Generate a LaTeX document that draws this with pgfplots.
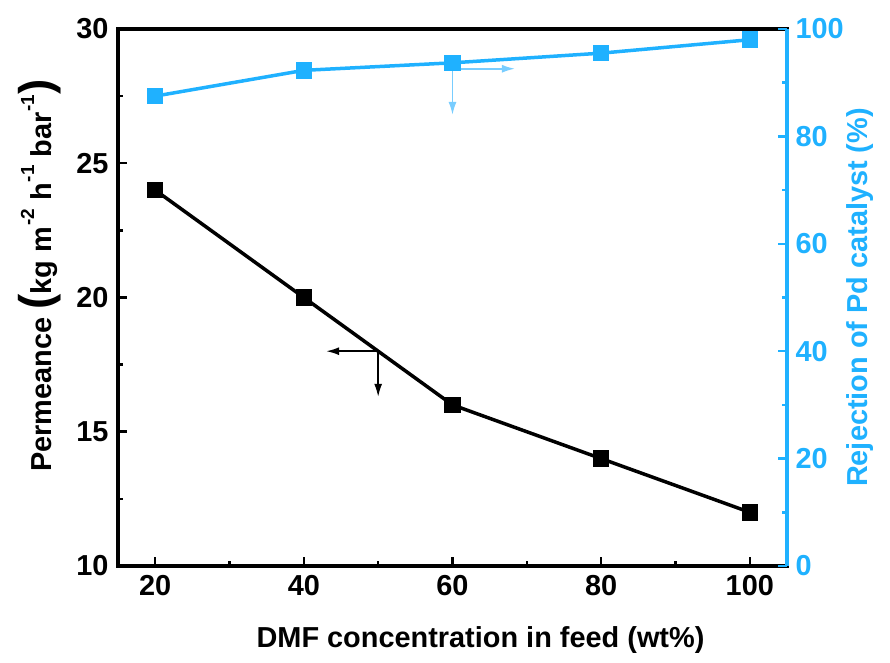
\documentclass[border=0pt]{standalone}
\usepackage{pgfplots}
\pgfplotsset{compat=1.18}
\usetikzlibrary{arrows.meta}
\usepackage{fontspec}
\setmainfont{Liberation Sans}
\definecolor{myblue}{RGB}{31,177,255}
\definecolor{lblue}{RGB}{120,205,255}
\newcommand{\mysup}[1]{\kern1bp\raisebox{0.62em}{\fontsize{19}{19}\selectfont #1}}
\begin{document}
\begin{tikzpicture}
\path[use as bounding box] (-118bp,-97bp) rectangle (772bp,566bp);
\begin{axis}[
  at={(0,0)}, anchor=south west,
  scale only axis, width=669bp, height=537bp,
  xmin=15, xmax=105, ymin=10, ymax=30,
  xtick={20,40,60,80,100}, minor x tick num=1,
  ytick={10,15,20,25,30}, minor y tick num=1,
  xtick pos=bottom, ytick pos=left,
  tick align=inside,
  major tick length=9bp, minor tick length=5bp,
  every tick/.style={line width=2.5bp, black},
  axis line style={line width=3.5bp},
  tick label style={font=\fontsize{29}{33}\selectfont\bfseries},
  xticklabel style={yshift=-6bp},
  yticklabel style={xshift=-6bp},
  /pgf/number format/assume math mode=true,
  xlabel={DMF concentration in feed (wt\%)},
  xlabel style={font=\fontsize{29}{32}\selectfont\bfseries, yshift=-24bp, xshift=28bp},
  ylabel={Permeance {\fontsize{46}{46}\selectfont(}kg m\mysup{-2} h\mysup{-1} bar\mysup{-1}{\fontsize{46}{46}\selectfont)}},
  ylabel style={font=\fontsize{29}{32}\selectfont\bfseries, yshift=8bp, xshift=22bp},
  clip=false,
]
\addplot[black, line width=3.5bp, mark=square*, mark size=6.5bp, mark options={solid}] coordinates {
(20,24) (40,20) (60,16) (80,14) (100,12)};
\draw[-{Latex[length=13bp,width=8bp]}, line width=1.6bp] (axis cs:50,18) -- (axis cs:43,18);
\draw[-{Latex[length=13bp,width=8bp]}, line width=1.6bp] (axis cs:50,18) -- (axis cs:50,16.3);
\end{axis}
\begin{axis}[
  at={(0,0)}, anchor=south west,
  scale only axis, width=669bp, height=537bp,
  xmin=15, xmax=105, ymin=0, ymax=100,
  axis x line=none,
  axis y line*=right,
  ytick={0,20,40,60,80,100}, minor y tick num=1,
  tick align=inside,
  major tick length=9bp, minor tick length=5bp,
  every tick/.style={line width=2.5bp, myblue},
  axis line style={line width=3.5bp, myblue, -},
  tick label style={font=\fontsize{29}{33}\selectfont\bfseries, myblue},
  yticklabel style={xshift=5bp},
  /pgf/number format/assume math mode=true,
  ylabel={Rejection of Pd catalyst (\%)},
  ylabel style={font=\fontsize{29}{32}\selectfont\bfseries, myblue, yshift=4bp},
  clip=false,
]
\addplot[myblue, line width=3.5bp, mark=square*, mark size=6.5bp, mark options={solid}] coordinates {
(20,87.5) (40,92.3) (60,93.7) (80,95.5) (100,98)};
\draw[-{Latex[length=13bp,width=8bp]}, line width=1.6bp, lblue] (axis cs:60,92.6) -- (axis cs:68.4,92.6);
\draw[-{Latex[length=13bp,width=8bp]}, line width=1.6bp, lblue] (axis cs:60,92.6) -- (axis cs:60,84);
\end{axis}
\end{tikzpicture}
\end{document}
